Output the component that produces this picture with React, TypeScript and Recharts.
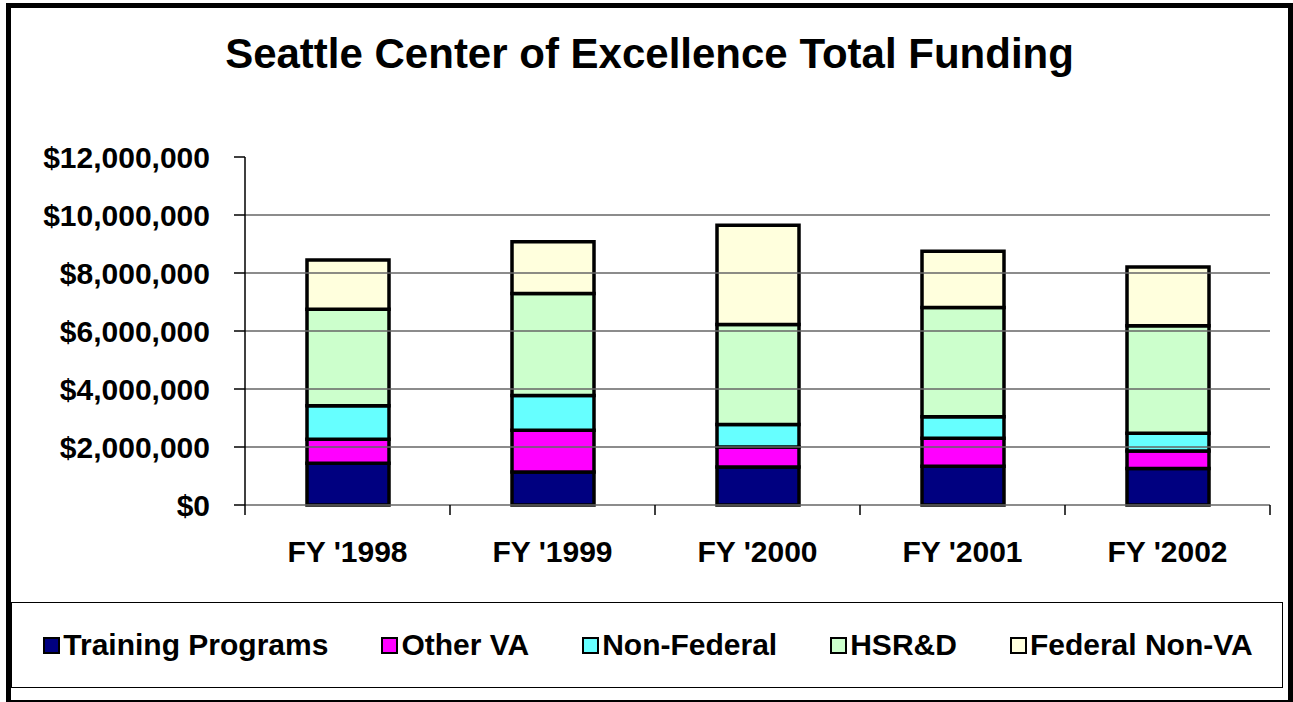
import { BarChart, Bar, XAxis, YAxis, ReferenceLine } from "recharts";

const categories = ["FY '1998", "FY '1999", "FY '2000", "FY '2001", "FY '2002"];

const trainingPrograms = [1440000, 1140000, 1310000, 1340000, 1260000];
const otherVA = [830000, 1440000, 690000, 960000, 600000];
const nonFederal = [1150000, 1200000, 780000, 740000, 610000];
const hsrd = [3330000, 3510000, 3440000, 3770000, 3710000];
const federalNonVA = [1700000, 1790000, 3430000, 1940000, 2030000];

const yTicks = [0, 2000000, 4000000, 6000000, 8000000, 10000000, 12000000];
const gridValues = [2000000, 4000000, 6000000, 8000000, 10000000];
const edgeTicks = [0, 1, 2, 3, 4, 5];

const SERIES = [
  { key: "training", name: "Training Programs", color: "#000080", values: trainingPrograms },
  { key: "otherVA", name: "Other VA", color: "#FF00FF", values: otherVA },
  { key: "nonFederal", name: "Non-Federal", color: "#66FFFF", values: nonFederal },
  { key: "hsrd", name: "HSR&D", color: "#CCFFCC", values: hsrd },
  { key: "fedNonVA", name: "Federal Non-VA", color: "#FFFFDD", values: federalNonVA },
];

// pos = category centre on a 0..5 numeric axis, used only for the boundary ticks
const data = categories.map((cat, i) => {
  const row: Record<string, string | number> = { cat, pos: i + 0.5 };
  SERIES.forEach((s) => (row[s.key] = s.values[i]));
  return row;
});

const FONT = "'Liberation Sans', Arial, sans-serif";

const fmtMoney = (v: number) => "$" + Number(v).toLocaleString("en-US");

export default function App() {
  return (
    <div
      style={{
        position: "absolute",
        left: 0,
        top: 0,
        width: 1293,
        height: 702,
        background: "#fff",
        overflow: "hidden",
        fontFamily: FONT,
      }}
    >
      {/* outer frame */}
      <div
        style={{
          position: "absolute",
          left: 6,
          top: 3,
          width: 1287,
          height: 702,
          border: "5px solid #000",
          boxSizing: "border-box",
        }}
      />

      <div
        style={{
          position: "absolute",
          left: 0,
          top: 33,
          width: 1299,
          textAlign: "center",
          fontSize: 42,
          lineHeight: "42px",
          fontWeight: 700,
          color: "#000",
        }}
      >
        Seattle Center of Excellence Total Funding
      </div>

      <div style={{ position: "absolute", left: 0, top: 0 }}>
        <BarChart
          width={1293}
          height={600}
          data={data}
          margin={{ top: 157, right: 23, left: 0, bottom: 0 }}
          barSize={82}
        >
          {/* boundary ticks between categories (id sorts first so it sits on the plot edge) */}
          <XAxis
            xAxisId="a-edge"
            dataKey="pos"
            type="number"
            domain={[0, 5]}
            ticks={edgeTicks}
            allowDataOverflow
            tickFormatter={() => ""}
            tickSize={10}
            height={1}
            axisLine={{ stroke: "#666", strokeWidth: 1.5 }}
            tickLine={{ stroke: "#000", strokeWidth: 1.5 }}
          />
          <XAxis
            xAxisId="b-cat"
            dataKey="cat"
            axisLine={false}
            tickLine={false}
            tickSize={0}
            tickMargin={35}
            height={94}
            tick={{ fill: "#000", fontSize: 30, fontWeight: 700, fontFamily: FONT }}
          />
          <YAxis
            domain={[0, 12000000]}
            ticks={yTicks}
            width={245}
            tickSize={11}
            tickMargin={24}
            tickFormatter={fmtMoney}
            axisLine={{ stroke: "#000", strokeWidth: 1.5 }}
            tickLine={{ stroke: "#000", strokeWidth: 1.5 }}
            tick={{ fill: "#000", fontSize: 30, fontWeight: 700, fontFamily: FONT }}
          />
          {gridValues.map((v) => (
            <ReferenceLine key={v} xAxisId="b-cat" y={v} stroke="#666" strokeWidth={1.5} />
          ))}
          {SERIES.map((s) => (
            <Bar
              key={s.key}
              xAxisId="b-cat"
              dataKey={s.key}
              name={s.name}
              stackId="a"
              fill={s.color}
              stroke="#000"
              strokeWidth={3.5}
              isAnimationActive={false}
            />
          ))}
        </BarChart>
      </div>

      {/* legend */}
      <div
        style={{
          position: "absolute",
          left: 11,
          top: 602,
          width: 1272,
          height: 86,
          border: "1px solid #000",
          boxSizing: "border-box",
          display: "flex",
          alignItems: "center",
          justifyContent: "center",
          gap: 53,
          paddingLeft: 2,
        }}
      >
        {SERIES.map((s) => (
          <div key={s.key} style={{ display: "flex", alignItems: "center" }}>
            <div
              style={{
                width: 17,
                height: 17,
                background: s.color,
                border: "2px solid #000",
                boxSizing: "border-box",
                marginRight: 3,
              }}
            />
            <span style={{ fontSize: 30, fontWeight: 700, lineHeight: "30px", color: "#000" }}>
              {s.name}
            </span>
          </div>
        ))}
      </div>
    </div>
  );
}
